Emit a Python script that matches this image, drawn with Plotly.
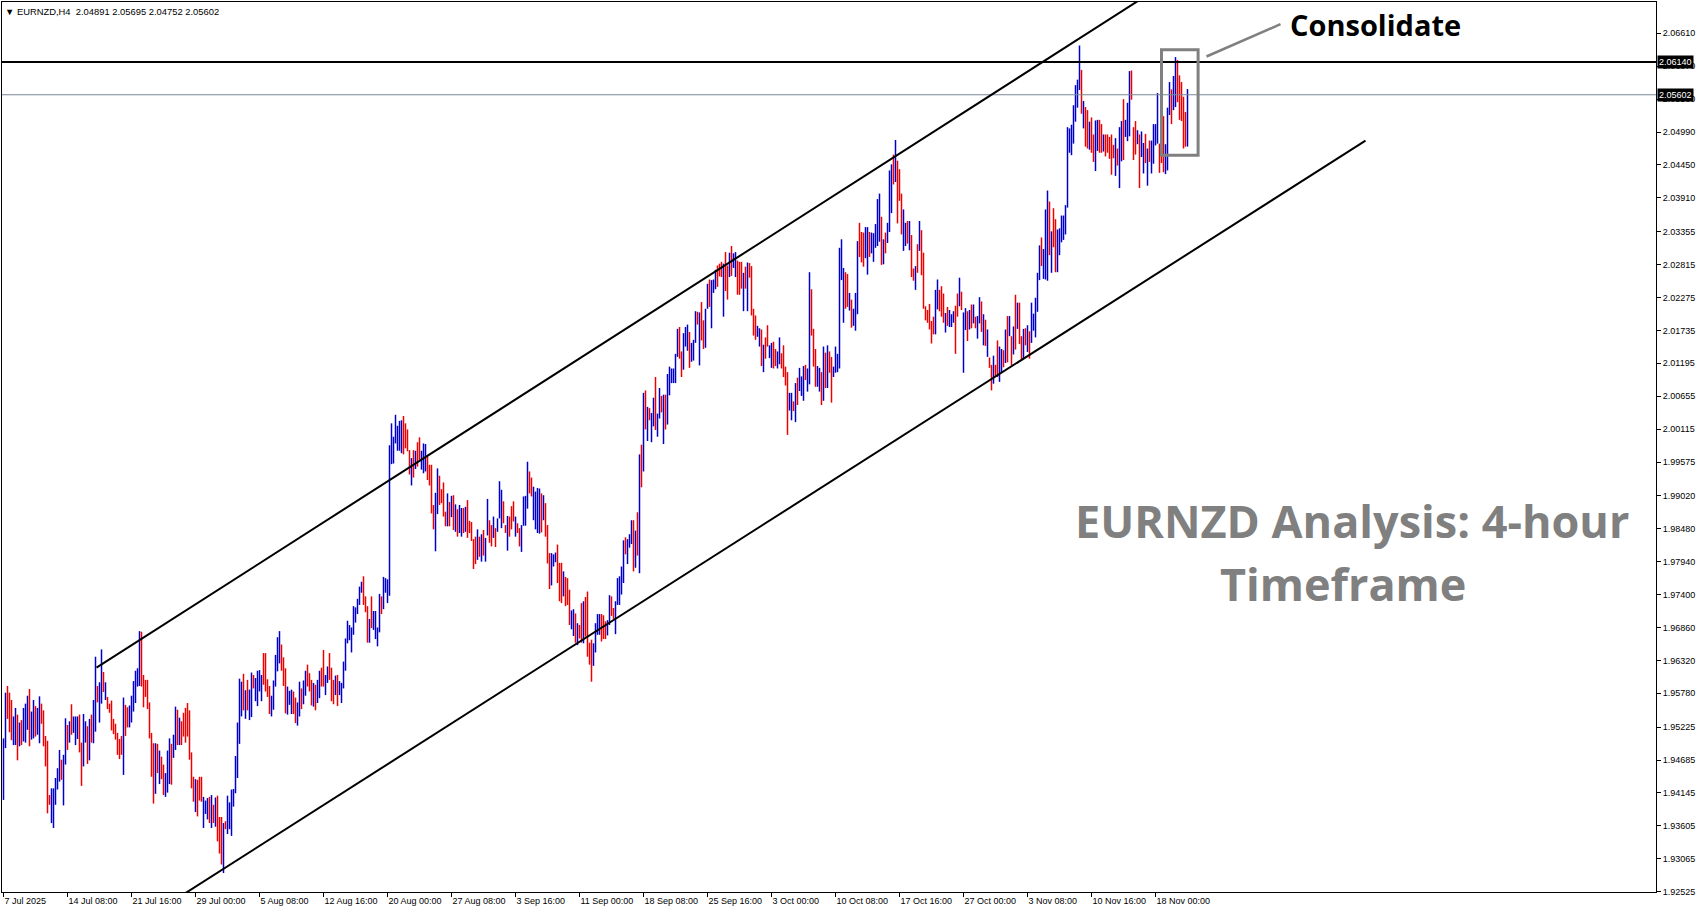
import plotly.graph_objects as go

# ---------------- data (EURNZD H4 bars, index 0 = 7 Jul 2025 00:00) ----------------
hi_jul = [1.9504, 1.9579, 1.9590, 1.9579, 1.9567, 1.9540, 1.9554, 1.9543, 1.9530, 1.9534,
          1.9554, 1.9561, 1.9574, 1.9585, 1.9548, 1.9567, 1.9557, 1.9554, 1.9573, 1.9561,
          1.9550, 1.9508, 1.9500, 1.9411, 1.9422, 1.9422, 1.9439, 1.9455, 1.9485, 1.9469,
          1.9477, 1.9537, 1.9526, 1.9532, 1.9560, 1.9540, 1.9540, 1.9540, 1.9543, 1.9497,
          1.9544, 1.9532, 1.9524, 1.9536, 1.9543, 1.9567, 1.9638, 1.9590, 1.9596, 1.9650,
          1.9613, 1.9596, 1.9572, 1.9561, 1.9566, 1.9536, 1.9528, 1.9513, 1.9503, 1.9508,
          1.9571, 1.9559, 1.9555, 1.9558, 1.9574, 1.9598, 1.9615, 1.9619, 1.9680, 1.9679,
          1.9608, 1.9600, 1.9600, 1.9563, 1.9513, 1.9496, 1.9496, 1.9495, 1.9484, 1.9474,
          1.9461, 1.9447, 1.9484, 1.9504, 1.9495, 1.9510, 1.9556, 1.9551, 1.9538, 1.9532,
          1.9546, 1.9554, 1.9562, 1.9550, 1.9481, 1.9441, 1.9437, 1.9436, 1.9441, 1.9441,
          1.9408, 1.9402, 1.9406, 1.9408, 1.9411, 1.9395, 1.9407, 1.9410, 1.9375, 1.9375,
          1.9365, 1.9368, 1.9410, 1.9399, 1.9420, 1.9421, 1.9475, 1.9530, 1.9602, 1.9597,
          1.9610, 1.9583, 1.9600, 1.9584, 1.9612, 1.9608, 1.9603, 1.9615, 1.9616, 1.9608,
          1.9644, 1.9644, 1.9601, 1.9590, 1.9574, 1.9599, 1.9641, 1.9670, 1.9680, 1.9658,
          1.9637, 1.9619, 1.9589, 1.9582, 1.9584, 1.9581, 1.9571, 1.9563, 1.9597]
lo_jul = [1.9403, 1.9488, 1.9536, 1.9514, 1.9501, 1.9493, 1.9493, 1.9468, 1.9491, 1.9493,
          1.9499, 1.9497, 1.9518, 1.9491, 1.9502, 1.9504, 1.9507, 1.9510, 1.9496, 1.9528,
          1.9491, 1.9458, 1.9381, 1.9395, 1.9365, 1.9357, 1.9395, 1.9420, 1.9433, 1.9436,
          1.9394, 1.9461, 1.9485, 1.9497, 1.9510, 1.9513, 1.9493, 1.9503, 1.9481, 1.9426,
          1.9458, 1.9497, 1.9462, 1.9468, 1.9497, 1.9496, 1.9515, 1.9563, 1.9530, 1.9561,
          1.9580, 1.9567, 1.9552, 1.9546, 1.9517, 1.9511, 1.9502, 1.9477, 1.9470, 1.9477,
          1.9444, 1.9508, 1.9522, 1.9522, 1.9530, 1.9548, 1.9562, 1.9589, 1.9590, 1.9589,
          1.9555, 1.9572, 1.9552, 1.9504, 1.9441, 1.9397, 1.9413, 1.9447, 1.9429, 1.9437,
          1.9411, 1.9408, 1.9415, 1.9429, 1.9428, 1.9472, 1.9485, 1.9493, 1.9493, 1.9493,
          1.9507, 1.9497, 1.9507, 1.9469, 1.9422, 1.9400, 1.9383, 1.9376, 1.9402, 1.9400,
          1.9357, 1.9380, 1.9371, 1.9365, 1.9357, 1.9365, 1.9359, 1.9335, 1.9315, 1.9297,
          1.9283, 1.9355, 1.9347, 1.9355, 1.9344, 1.9392, 1.9414, 1.9439, 1.9495, 1.9540,
          1.9550, 1.9536, 1.9550, 1.9534, 1.9539, 1.9586, 1.9565, 1.9557, 1.9581, 1.9565,
          1.9592, 1.9581, 1.9572, 1.9544, 1.9540, 1.9551, 1.9589, 1.9614, 1.9627, 1.9615,
          1.9590, 1.9545, 1.9543, 1.9559, 1.9544, 1.9544, 1.9529, 1.9525, 1.9540]
dir_jul = ("uuddduudud uuuduuduud dddduuuuud uududuuudd uududuuduu dudddddddd udduuuuuud "
           "ddddddudud duuuduudud dddddduddd uuudududdd uduuuuuuuu duduuduuuu dddduuuuud dduuudduu")

hi_aug = [1.9586, 1.9599, 1.9615, 1.9625, 1.9611, 1.9600, 1.9595, 1.9592, 1.9600, 1.9615,
          1.9620, 1.9649, 1.9608, 1.9622, 1.9644, 1.9620, 1.9600, 1.9607, 1.9608, 1.9598,
          1.9595, 1.9630, 1.9668, 1.9697, 1.9690, 1.9686, 1.9721, 1.9719, 1.9733, 1.9753,
          1.9761, 1.9770, 1.9737, 1.9721, 1.9700, 1.9737, 1.9713, 1.9713, 1.9686, 1.9741,
          1.9737, 1.9769, 1.9767, 1.9765, 1.9985, 2.0021, 1.9999, 2.0035, 2.0017, 2.0025,
          2.0026, 2.0033, 2.0021, 2.0011, 1.9977, 1.9964, 1.9977, 1.9976, 1.9990, 1.9998,
          1.9976, 1.9988, 1.9987, 1.9967, 1.9953, 1.9953, 1.9887, 1.9907, 1.9947, 1.9935,
          1.9913, 1.9924, 1.9876, 1.9906, 1.9892, 1.9902, 1.9903, 1.9888, 1.9880, 1.9887,
          1.9882, 1.9882, 1.9884, 1.9895, 1.9861, 1.9859, 1.9831, 1.9835, 1.9847, 1.9835,
          1.9839, 1.9846, 1.9833, 1.9897, 1.9862, 1.9854, 1.9868, 1.9849, 1.9865, 1.9926,
          1.9912, 1.9893, 1.9854, 1.9869, 1.9868, 1.9885, 1.9893, 1.9868, 1.9857, 1.9849,
          1.9854, 1.9901, 1.9902, 1.9958, 1.9942, 1.9932, 1.9917, 1.9909, 1.9915, 1.9914,
          1.9906, 1.9903, 1.9890, 1.9854, 1.9808, 1.9808, 1.9806, 1.9809, 1.9822, 1.9792,
          1.9792, 1.9778, 1.9769, 1.9767, 1.9748, 1.9714, 1.9716, 1.9709, 1.9693, 1.9690,
          1.9726, 1.9729, 1.9736, 1.9745, 1.9661, 1.9666, 1.9660, 1.9693, 1.9708, 1.9708]
lo_aug = [1.9552, 1.9560, 1.9574, 1.9589, 1.9581, 1.9558, 1.9556, 1.9550, 1.9562, 1.9570,
          1.9589, 1.9589, 1.9575, 1.9595, 1.9600, 1.9565, 1.9560, 1.9575, 1.9557, 1.9575,
          1.9562, 1.9586, 1.9615, 1.9660, 1.9665, 1.9645, 1.9674, 1.9694, 1.9708, 1.9723,
          1.9743, 1.9723, 1.9711, 1.9661, 1.9661, 1.9685, 1.9682, 1.9667, 1.9655, 1.9678,
          1.9708, 1.9716, 1.9743, 1.9726, 1.9738, 1.9954, 1.9955, 1.9988, 1.9976, 1.9976,
          1.9972, 1.9970, 1.9980, 1.9975, 1.9937, 1.9919, 1.9932, 1.9946, 1.9950, 1.9961,
          1.9945, 1.9939, 1.9942, 1.9928, 1.9919, 1.9873, 1.9847, 1.9811, 1.9872, 1.9887,
          1.9890, 1.9868, 1.9852, 1.9852, 1.9852, 1.9867, 1.9846, 1.9843, 1.9835, 1.9841,
          1.9835, 1.9841, 1.9843, 1.9833, 1.9841, 1.9828, 1.9782, 1.9790, 1.9797, 1.9802,
          1.9794, 1.9804, 1.9794, 1.9837, 1.9825, 1.9819, 1.9833, 1.9818, 1.9843, 1.9865,
          1.9849, 1.9857, 1.9841, 1.9812, 1.9835, 1.9847, 1.9860, 1.9835, 1.9841, 1.9819,
          1.9810, 1.9853, 1.9853, 1.9881, 1.9906, 1.9901, 1.9862, 1.9847, 1.9841, 1.9840,
          1.9842, 1.9862, 1.9835, 1.9791, 1.9749, 1.9755, 1.9786, 1.9793, 1.9759, 1.9729,
          1.9726, 1.9737, 1.9721, 1.9723, 1.9690, 1.9683, 1.9672, 1.9661, 1.9657, 1.9668,
          1.9661, 1.9660, 1.9671, 1.9638, 1.9625, 1.9597, 1.9623, 1.9645, 1.9674, 1.9674]
dir_aug = ("duuddduduu dduudddudu uuuuuuuuuu uddduduuuu duuuuuuuuu uddddududd uuudddduud "
           "dddudududu ududddddud uduudduduu uddudddudd uuuudduuuu duddduuudd duddduudud dudddduuuu")

hi_oct = [1.9708, 1.9706, 1.9696, 1.9698, 1.9739, 1.9737, 1.9718, 1.9729, 1.9767, 1.9770,
          1.9786, 1.9829, 1.9834, 1.9831, 1.9839, 1.9862, 1.9862, 1.9845, 1.9875, 1.9970,
          1.9986, 2.0071, 2.0075, 2.0048, 2.0046, 2.0038, 2.0063, 2.0097, 2.0037, 2.0079,
          2.0066, 2.0068, 2.0068, 2.0102, 2.0114, 2.0111, 2.0111, 2.0135, 2.0176, 2.0179,
          2.0139, 2.0169, 2.0179, 2.0183, 2.0171, 2.0153, 2.0158, 2.0205, 2.0204, 2.0203,
          2.0220, 2.0190, 2.0209, 2.0250, 2.0257, 2.0256, 2.0257, 2.0273, 2.0280, 2.0283,
          2.0286, 2.0283, 2.0302, 2.0280, 2.0301, 2.0312, 2.0300, 2.0302, 2.0288, 2.0286,
          2.0286, 2.0268, 2.0278, 2.0285, 2.0284, 2.0279, 2.0209, 2.0198, 2.0181, 2.0177,
          2.0175, 2.0150, 2.0162, 2.0182, 2.0149, 2.0153, 2.0155, 2.0143, 2.0139, 2.0162,
          2.0136, 2.0149, 2.0114, 2.0105, 2.0071, 2.0071, 2.0057, 2.0087, 2.0096, 2.0112,
          2.0098, 2.0115, 2.0117, 2.0111, 2.0269, 2.0241, 2.0176, 2.0143, 2.0115, 2.0112,
          2.0105, 2.0147, 2.0137, 2.0149, 2.0139, 2.0130, 2.0114, 2.0147, 2.0135, 2.0309,
          2.0323, 2.0276, 2.0269, 2.0266, 2.0235, 2.0224, 2.0209, 2.0235, 2.0320, 2.0350,
          2.0335, 2.0334, 2.0343, 2.0343, 2.0335, 2.0334, 2.0333, 2.0348, 2.0389, 2.0398,
          2.0360, 2.0323, 2.0334, 2.0350, 2.0436, 2.0446, 2.0462, 2.0486, 2.0452, 2.0438]
lo_oct = [1.9663, 1.9667, 1.9667, 1.9673, 1.9690, 1.9705, 1.9700, 1.9675, 1.9723, 1.9723,
          1.9740, 1.9759, 1.9806, 1.9790, 1.9817, 1.9823, 1.9778, 1.9784, 1.9804, 1.9775,
          1.9916, 1.9942, 2.0011, 1.9992, 2.0026, 1.9990, 2.0016, 2.0010, 1.9999, 2.0029,
          2.0039, 1.9987, 2.0011, 2.0019, 2.0067, 2.0087, 2.0087, 2.0087, 2.0130, 2.0127,
          2.0097, 2.0109, 2.0147, 2.0140, 2.0112, 2.0122, 2.0124, 2.0153, 2.0183, 2.0116,
          2.0157, 2.0143, 2.0145, 2.0209, 2.0212, 2.0177, 2.0235, 2.0241, 2.0245, 2.0262,
          2.0261, 2.0196, 2.0238, 2.0224, 2.0261, 2.0263, 2.0276, 2.0261, 2.0232, 2.0232,
          2.0242, 2.0205, 2.0242, 2.0205, 2.0260, 2.0198, 2.0165, 2.0158, 2.0163, 2.0147,
          2.0115, 2.0105, 2.0127, 2.0147, 2.0128, 2.0112, 2.0111, 2.0115, 2.0111, 2.0118,
          2.0111, 2.0097, 2.0083, 2.0002, 2.0042, 2.0026, 2.0041, 2.0023, 2.0051, 2.0074,
          2.0066, 2.0058, 2.0092, 2.0073, 2.0085, 2.0165, 2.0114, 2.0081, 2.0081, 2.0073,
          2.0051, 2.0058, 2.0079, 2.0079, 2.0104, 2.0055, 2.0097, 2.0104, 2.0105, 2.0111,
          2.0256, 2.0186, 2.0209, 2.0212, 2.0206, 2.0178, 2.0181, 2.0173, 2.0200, 2.0294,
          2.0285, 2.0278, 2.0292, 2.0265, 2.0294, 2.0300, 2.0286, 2.0309, 2.0312, 2.0319,
          2.0281, 2.0282, 2.0300, 2.0317, 2.0335, 2.0366, 2.0413, 2.0417, 2.0349, 2.0386]
dir_oct = ("ddduudduuu uuduuududu dududuuduu duduuuuuud duuuduuudu dduuduuudd dudduduudd "
           "dududddduu dudduudduu dddduududu uuduuddduu dududduuuu uudduduuud dduuduuuuu duduuududd")

hi_nov = [2.0398, 2.0372, 2.0350, 2.0353, 2.0353, 2.0330, 2.0275, 2.0279, 2.0315, 2.0353,
          2.0338, 2.0301, 2.0213, 2.0207, 2.0217, 2.0189, 2.0196, 2.0240, 2.0257, 2.0240,
          2.0246, 2.0234, 2.0202, 2.0212, 2.0207, 2.0200, 2.0205, 2.0214, 2.0234, 2.0260,
          2.0237, 2.0203, 2.0210, 2.0205, 2.0207, 2.0216, 2.0216, 2.0196, 2.0197, 2.0228,
          2.0221, 2.0200, 2.0191, 2.0175, 2.0129, 2.0117, 2.0132, 2.0117, 2.0157, 2.0147,
          2.0143, 2.0141, 2.0175, 2.0197, 2.0197, 2.0164, 2.0180, 2.0232, 2.0219, 2.0219,
          2.0164, 2.0176, 2.0177, 2.0182, 2.0172, 2.0219, 2.0201, 2.0227, 2.0268, 2.0313,
          2.0326, 2.0307, 2.0372, 2.0403, 2.0385, 2.0336, 2.0374, 2.0356, 2.0339, 2.0341,
          2.0362, 2.0362, 2.0379, 2.0507, 2.0505, 2.0511, 2.0543, 2.0576, 2.0585, 2.0641,
          2.0601, 2.0550, 2.0540, 2.0535, 2.0516, 2.0523, 2.0495, 2.0518, 2.0519, 2.0519,
          2.0512, 2.0495, 2.0495, 2.0495, 2.0491, 2.0495, 2.0478, 2.0489, 2.0472, 2.0507,
          2.0517, 2.0553, 2.0519, 2.0547, 2.0599, 2.0600, 2.0507, 2.0517, 2.0502, 2.0495,
          2.0500, 2.0481, 2.0496, 2.0472, 2.0485, 2.0485, 2.0512, 2.0512, 2.0563, 2.0480,
          2.0525, 2.0525, 2.0479, 2.0539, 2.0581, 2.0569, 2.0591, 2.0622, 2.0617, 2.0592,
          2.0581, 2.0557, 2.0532, 2.05695]
lo_nov = [2.0331, 2.0304, 2.0312, 2.0316, 2.0305, 2.0261, 2.0255, 2.0240, 2.0268, 2.0304,
          2.0264, 2.0209, 2.0190, 2.0186, 2.0175, 2.0152, 2.0167, 2.0167, 2.0208, 2.0205,
          2.0196, 2.0186, 2.0170, 2.0181, 2.0179, 2.0179, 2.0186, 2.0135, 2.0196, 2.0213,
          2.0207, 2.0104, 2.0174, 2.0156, 2.0175, 2.0177, 2.0185, 2.0177, 2.0160, 2.0185,
          2.0171, 2.0149, 2.0148, 2.0130, 2.0112, 2.0075, 2.0086, 2.0097, 2.0097, 2.0089,
          2.0105, 2.0113, 2.0120, 2.0121, 2.0164, 2.0116, 2.0134, 2.0142, 2.0176, 2.0151,
          2.0124, 2.0127, 2.0149, 2.0138, 2.0127, 2.0153, 2.0173, 2.0162, 2.0204, 2.0256,
          2.0279, 2.0258, 2.0257, 2.0255, 2.0297, 2.0268, 2.0310, 2.0269, 2.0269, 2.0297,
          2.0318, 2.0322, 2.0331, 2.0375, 2.0465, 2.0461, 2.0480, 2.0516, 2.0539, 2.0568,
          2.0529, 2.0505, 2.0475, 2.0472, 2.0470, 2.0465, 2.0450, 2.0435, 2.0468, 2.0465,
          2.0465, 2.0467, 2.0459, 2.0465, 2.0455, 2.0429, 2.0456, 2.0427, 2.0444, 2.0407,
          2.0451, 2.0453, 2.0491, 2.0484, 2.0492, 2.0552, 2.0453, 2.0462, 2.0479, 2.0407,
          2.0458, 2.0431, 2.0448, 2.0411, 2.0450, 2.0431, 2.0447, 2.0477, 2.0480, 2.0432,
          2.0448, 2.0433, 2.0430, 2.0436, 2.0527, 2.0512, 2.0535, 2.0540, 2.0548, 2.0519,
          2.0517, 2.0472, 2.0475, 2.04752]
dir_nov = ("duududdudu ddddddduud dduduuuddu duudududuu dududduddu ududududud dududuuuuu "
           "duuududduu uuuuuuuuuu duddudduud dudddddudu uduuudddud uududuuuud dduuuduudd dddu")

x_tick_pos = [0, 32, 64, 96, 128, 160, 192, 224, 256, 288, 320, 352, 384, 416, 448, 480, 512, 544, 576]
x_tick_text = ["7 Jul 2025", "14 Jul 08:00", "21 Jul 16:00", "29 Jul 00:00", "5 Aug 08:00",
               "12 Aug 16:00", "20 Aug 00:00", "27 Aug 08:00", "3 Sep 16:00", "11 Sep 00:00",
               "18 Sep 08:00", "25 Sep 16:00", "3 Oct 00:00", "10 Oct 08:00", "17 Oct 16:00",
               "27 Oct 00:00", "3 Nov 08:00", "10 Nov 16:00", "18 Nov 00:00"]
y_tick_vals = [2.06610, 2.06070, 2.05530, 2.04990, 2.04450, 2.03910, 2.03355, 2.02815, 2.02275,
               2.01735, 2.01195, 2.00655, 2.00115, 1.99575, 1.99020, 1.98480, 1.97940, 1.97400,
               1.96860, 1.96320, 1.95780, 1.95225, 1.94685, 1.94145, 1.93605, 1.93065, 1.92525]

# analyst drawings (bar index, price)
upper_channel_x = [46.5, 600.0]
upper_channel_y = [1.9620, 2.0783]
lower_channel_x = [89.5, 681.0]
lower_channel_y = [1.9247, 2.0485]
resistance_level = 2.06140
bid_level = 2.05602
box_x = [579.0, 597.3]
box_y = [2.0461, 2.0634]
pointer_x = [601.5, 638.5]
pointer_y = [2.0623, 2.0676]
header_text = "EURNZD,H4\u00a0\u00a02.04891 2.05695 2.04752 2.05602"

# ---------------- build ----------------
highs = hi_jul + hi_aug + hi_oct + hi_nov
lows = lo_jul + lo_aug + lo_oct + lo_nov
dirs = (dir_jul + dir_aug + dir_oct + dir_nov).replace(" ", "")
assert len(highs) == len(lows) == len(dirs), (len(highs), len(lows), len(dirs))


def segments(flag):
    xs, ys = [], []
    for i, (h, l, d) in enumerate(zip(highs, lows, dirs)):
        if d == flag:
            xs += [i, i, None]
            ys += [l, h, None]
    return xs, ys


FONT = "Liberation Sans"
fig = go.Figure()
ux, uy = segments("u")
dx, dy = segments("d")
fig.add_trace(go.Scatter(x=ux, y=uy, mode="lines", line=dict(color="#0000C8", width=1.5), hoverinfo="skip"))
fig.add_trace(go.Scatter(x=dx, y=dy, mode="lines", line=dict(color="#EE0000", width=1.5), hoverinfo="skip"))

fig.add_trace(go.Scatter(x=[-5, 840], y=[bid_level, bid_level], mode="lines",
                         line=dict(color="#778899", width=1), hoverinfo="skip"))
fig.add_trace(go.Scatter(x=[-5, 840], y=[resistance_level, resistance_level], mode="lines",
                         line=dict(color="black", width=2), hoverinfo="skip"))
fig.add_trace(go.Scatter(x=upper_channel_x, y=upper_channel_y, mode="lines",
                         line=dict(color="black", width=2), hoverinfo="skip"))
fig.add_trace(go.Scatter(x=lower_channel_x, y=lower_channel_y, mode="lines",
                         line=dict(color="black", width=2), hoverinfo="skip"))
fig.add_trace(go.Scatter(x=pointer_x, y=pointer_y, mode="lines",
                         line=dict(color="#808080", width=2.5), hoverinfo="skip"))

fig.add_shape(type="rect", xref="x", yref="y", x0=box_x[0], x1=box_x[1], y0=box_y[0], y1=box_y[1],
              line=dict(color="#808080", width=3), fillcolor="rgba(0,0,0,0)", layer="above")

annotations = [
    dict(x=1, xref="paper", y=resistance_level, yref="y", text="2.06140", showarrow=False,
         xanchor="left", yanchor="middle", bgcolor="black", borderpad=1, xshift=1,
         font=dict(family=FONT, size=9, color="white")),
    dict(x=1, xref="paper", y=bid_level, yref="y", text="2.05602", showarrow=False,
         xanchor="left", yanchor="middle", bgcolor="black", borderpad=1, xshift=1,
         font=dict(family=FONT, size=9, color="white")),
    dict(x=0.0006, xref="paper", y=0.9895, yref="paper", text="\u25bc " + header_text, showarrow=False,
         xanchor="left", yanchor="middle", font=dict(family=FONT, size=9.4, color="black")),
    dict(x=0.8304, xref="paper", y=0.9742, yref="paper", text="<b>Consolidate</b>", showarrow=False,
         xanchor="center", yanchor="middle", font=dict(family="Open Sans", size=29, color="black")),
    dict(x=0.8165, xref="paper", y=0.4169, yref="paper", text="<b>EURNZD Analysis: 4-hour</b>",
         showarrow=False, xanchor="center", yanchor="middle",
         font=dict(family="Open Sans", size=45, color="#808080")),
    dict(x=0.8108, xref="paper", y=0.3461, yref="paper", text="<b>Timeframe</b>",
         showarrow=False, xanchor="center", yanchor="middle",
         font=dict(family="Open Sans", size=45, color="#808080")),
]

fig.update_layout(
    width=1701, height=915,
    margin=dict(l=2, r=45, t=2, b=23, pad=0),
    paper_bgcolor="white", plot_bgcolor="white",
    showlegend=False, template="none",
    annotations=annotations,
    xaxis=dict(range=[-0.75, 826.25], tickmode="array", tickvals=x_tick_pos, ticktext=x_tick_text,
               ticks="outside", ticklen=4, tickcolor="black", tickwidth=1,
               showline=True, linecolor="black", linewidth=1, mirror=True,
               showgrid=False, zeroline=False, automargin=False,
               ticklabelposition="outside right",
               tickfont=dict(family=FONT, size=9, color="black")),
    yaxis=dict(range=[1.92519, 2.07124], side="right", tickmode="array", tickvals=y_tick_vals,
               ticktext=["%.5f" % v for v in y_tick_vals],
               ticks="outside", ticklen=4, tickcolor="black", tickwidth=1,
               showline=True, linecolor="black", linewidth=1, mirror=True,
               showgrid=False, zeroline=False, automargin=False,
               tickfont=dict(family=FONT, size=9, color="black")),
)

fig.write_html("out.html", config={"displayModeBar": False},
               post_script="document.body.style.margin='0';document.body.style.overflow='hidden';")
